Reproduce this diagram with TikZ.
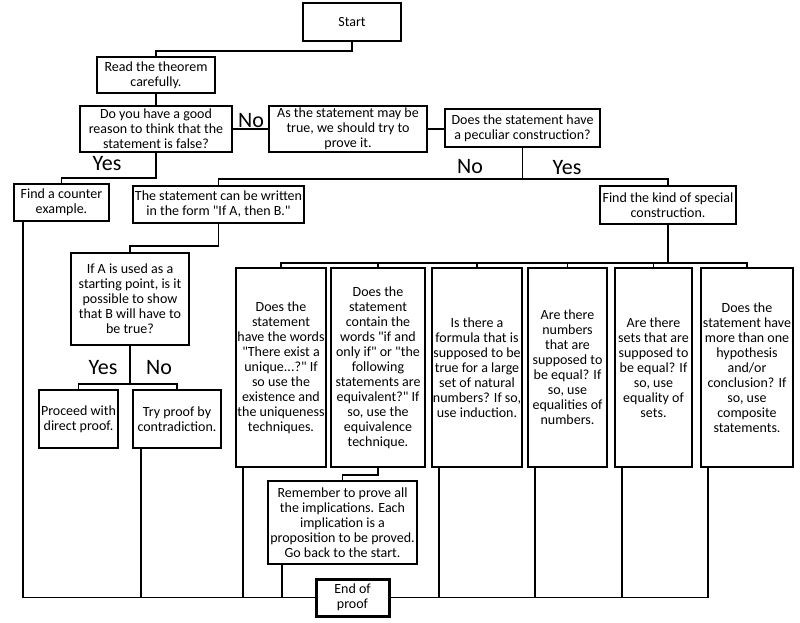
\documentclass[tikz,border=0pt]{standalone}
\usepackage{fontspec}
\setmainfont{Carlito}[Ligatures=TeXOff]
\usepackage{tikz}

\begin{document}
\begin{tikzpicture}[x=1pt,y=-1pt,line width=1.6pt,
    box/.style 2 args={draw, align=center, inner sep=0.5pt, minimum width=#1, minimum height=#2, font=\fontsize{14}{15}\selectfont},
    ans/.style={inner sep=0pt, font=\fontsize{22}{24}\selectfont}]
    \useasboundingbox (0,0) rectangle (800,622);
    \node[box={98pt}{38pt}] (start) at (352,22) {Start};
    \node[box={118pt}{36pt}] (read) at (156,75) {Read the theorem\\carefully.};
    \node[box={152pt}{46pt}] (false) at (156,129) {Do you have a good\\reason to think that the\\statement is false?};
    \node[box={158pt}{46pt}] (prove) at (348,129) {As the statement may be\\true, we should try to\\prove it.};
    \node[box={155pt}{38pt}] (peculiar) at (522.5,128) {Does the statement have\\a peculiar construction?};
    \node[box={95pt}{37pt}] (counter) at (61.5,202.5) {Find a counter\\example.};
    \node[box={171pt}{37pt}] (ifthen) at (218.5,204.5) {The statement can be written\\in the form "If A, then B."};
    \node[box={136pt}{38pt}] (kind) at (668,205) {Find the kind of special\\construction.};
    \node[box={118pt}{92pt}] (ifa) at (130,299) {If A is used as a\\starting point, is it\\possible to show\\that B will have to\\be true?};
    \node[box={79pt}{58pt}] (direct) at (78.5,419) {Proceed with\\direct proof.};
    \node[box={88pt}{58pt}] (contra) at (177,419) {Try proof by\\contradiction.};
    \node[box={90pt}{199pt}] (unique) at (281,367.5) {Does the\\statement\\have the words\\"There exist a\\unique...?" If\\so use the\\existence and\\the uniqueness\\techniques.};
    \node[box={94pt}{199pt}] (equiv) at (378,367.5) {Does the\\statement\\contain the\\words "if and\\only if" or "the\\following\\statements are\\equivalent?" If\\so, use the\\equivalence\\technique.};
    \node[box={90pt}{199pt}] (induct) at (477,367.5) {Is there a\\formula that is\\supposed to be\\true for a large\\set of natural\\numbers? If so,\\use induction.};
    \node[box={79pt}{199pt}] (numbers) at (567.5,367.5) {Are there\\numbers\\that are\\supposed to\\be equal? If\\so, use\\equalities of\\numbers.};
    \node[box={77pt}{199pt}] (sets) at (653.5,367.5) {Are there\\sets that are\\supposed to\\be equal? If\\so, use\\equality of\\sets.};
    \node[box={92pt}{199pt}] (composite) at (747,367.5) {Does the\\statement have\\more than one\\hypothesis\\and/or\\conclusion? If\\so, use\\composite\\statements.};
    \node[box={149pt}{83pt}] (remember) at (342.5,522.5) {Remember to prove all\\the implications. Each\\implication is a\\proposition to be proved.\\Go back to the start.};
    \node[box={73pt}{37pt}, line width=3pt] (end) at (352.5,597.5) {End of\\proof};

    \node[ans] (no1) at (251,121) {No};
    \node[ans] (yes1) at (107,164) {Yes};
    \node[ans] (no2) at (470,167) {No};
    \node[ans] (yes2) at (567,168) {Yes};
    \node[ans] (yes3) at (103,368) {Yes};
    \node[ans] (no3) at (159,368) {No};

    \draw (start.south) -- ++(0,9) -| (read.north);
    \draw (read.south) -- (false.north);
    \draw (false.east) -- (prove.west);
    \draw (prove.east) -- (prove.east -| peculiar.west);
    \draw (false.south) -- ++(0,25) -| (counter.north);
    \draw (peculiar.south) -- ++(0,31) coordinate (split) -| (ifthen.north);
    \draw (split) -| (kind.north);
    \draw (ifthen.south) -- ++(0,22) -| (ifa.north);
    \draw (ifa.south) -- ++(0,38) coordinate (fork);
    \draw (direct.north) |- (fork) -| (contra.north);
    \draw (kind.south) -- ++(0,38) coordinate (bus);
    \draw (unique.north) |- (bus) -| (composite.north);
    \foreach \b in {equiv,induct,numbers,sets}
        \draw (\b.north) -- (\b.north |- bus);
    \draw (equiv.south) -- ++(0,7) -| (remember.north);
    \draw ([xshift=10pt]counter.south west) |- (end.west);
    \draw ([xshift=9pt]contra.south west) |- (end.west);
    \draw ([xshift=8pt]unique.south west) |- (end.west);
    \draw ([xshift=15pt]remember.south west) |- (end.west);
    \foreach \b in {induct,numbers,sets,composite}
        \draw ([xshift=8pt]\b.south west) |- (end.east);
\end{tikzpicture}
\end{document}
